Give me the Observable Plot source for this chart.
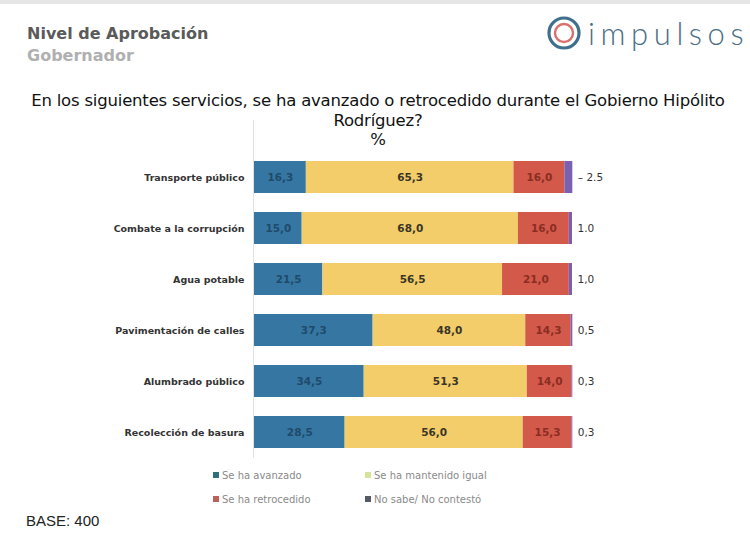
<!DOCTYPE html>
<html>
<head>
<meta charset="utf-8">
<script src="https://cdn.jsdelivr.net/npm/d3@7"></script>
<script src="https://cdn.jsdelivr.net/npm/@observablehq/plot@0.6"></script>
<style>
  html, body { margin: 0; padding: 0; background: #fff; }
  body { width: 750px; height: 552px; position: relative; overflow: hidden; font-family: "DejaVu Sans", sans-serif; }
  .topbar { position: absolute; left: 0; top: 0; width: 750px; height: 4px; background: #e6e6e6; }
  .h1 { position: absolute; left: 27px; top: 24px; font-size: 16px; font-weight: bold; color: #5a5a5a; }
  .h2 { position: absolute; left: 27px; top: 46px; font-size: 16px; font-weight: bold; color: #b0b0b0; }
  .logo { position: absolute; left: 546px; top: 14px; display: flex; align-items: center; }
  .logo span { font-family: "Lato", sans-serif; font-weight: 300; font-size: 31px; color: #4b6e84; letter-spacing: 5.6px; margin-left: 6px; }
  .title { position: absolute; left: 0; top: 91px; width: 756px; text-align: center; font-size: 16.5px; line-height: 19.5px; color: #111; letter-spacing: -0.2px; }
  #chart { position: absolute; left: 0; top: 120px; }
  .legend { position: absolute; left: 213px; top: 470px; font-size: 10px; color: #8a8a8a; }
  .legend .item { position: absolute; white-space: nowrap; }
  .legend .sw { display: inline-block; width: 6px; height: 6px; margin-right: 3px; vertical-align: 1px; }
  .base { position: absolute; left: 26px; top: 512px; font-family: "Liberation Sans", Arial, sans-serif; font-size: 15px; color: #222; }
</style>
</head>
<body>
<div class="topbar"></div>
<div class="h1">Nivel de Aprobación</div>
<div class="h2">Gobernador</div>
<div class="logo">
  <svg width="36" height="36" viewBox="0 0 36 36"><circle cx="18" cy="18" r="15" fill="none" stroke="#3f6f8c" stroke-width="3.2"/><circle cx="18" cy="18" r="9" fill="none" stroke="#d8706b" stroke-width="2.4"/></svg>
  <span>impulsos</span>
</div>
<div class="title">En los siguientes servicios, se ha avanzado o retrocedido durante el Gobierno Hipólito<br>Rodríguez?<br>%</div>
<div id="chart"></div>
<div class="legend" id="legend"></div>
<div class="base">BASE: 400</div>
<script>
const categories = ["Transporte público", "Combate a la corrupción", "Agua potable", "Pavimentación de calles", "Alumbrado público", "Recolección de basura"];
const series = ["Se ha avanzado", "Se ha mantenido igual", "Se ha retrocedido", "No sabe/ No contestó"];
const avanzado   = [16.3, 15.0, 21.5, 37.3, 34.5, 28.5];
const mantenido  = [65.3, 68.0, 56.5, 48.0, 51.3, 56.0];
const retrocedido= [16.0, 16.0, 21.0, 14.3, 14.0, 15.3];
const nosabe     = [2.5, 1.0, 1.0, 0.5, 0.3, 0.3];
const nosabeLabels = ["– 2.5", "1.0", "1,0", "0,5", "0,3", "0,3"];
const colors = ["#3577a2", "#f3cd69", "#d3594a", "#7b5fb0"];
const textColors = ["#1f4a6a", "#3a3526", "#8a2d22"];
const legendColors = ["#2f6f7e", "#d6e39a", "#c0605a", "#555a66"];

const valueLists = [avanzado, mantenido, retrocedido, nosabe];
const data = [];
categories.forEach((c, i) => series.forEach((s, j) => data.push({cat: c, series: s, si: j, value: valueLists[j][i]})));
const totals = categories.map((c, i) => ({cat: c, total: valueLists.reduce((a, l) => a + l[i], 0), label: nosabeLabels[i]}));
const fmt = v => v.toFixed(1).replace(".", ",");

const chart = Plot.plot({
  width: 750,
  height: 338,
  marginLeft: 254,
  marginRight: 178,
  marginTop: 0,
  marginBottom: 0,
  x: {domain: [0, 100], axis: null},
  y: {domain: categories, padding: 0.37, paddingOuter: 0.44, align: 0.8, label: null},
  color: {domain: series, range: colors},
  style: {fontFamily: "DejaVu Sans, sans-serif"},
  marks: [
    Plot.ruleX([0], {stroke: "#e2e2e2", strokeWidth: 1, dx: -1}),
    Plot.barX(data, Plot.stackX({x: "value", y: "cat", fill: "series", order: series})),
    Plot.text(data, Plot.stackX({x: "value", y: "cat", z: "series", order: series, filter: d => d.si < 3,
      text: d => fmt(d.value), fill: d => textColors[d.si], fontSize: 10.5, fontWeight: "bold"})),
    Plot.text(totals, {x: "total", y: "cat", text: "label", textAnchor: "start", dx: 5, fill: "#333", fontSize: 10.5}),
    Plot.axisY({tickSize: 0, tickPadding: 10, fontSize: 9.5, fontWeight: "bold", color: "#333", label: null})
  ]
});
document.getElementById("chart").appendChild(chart);

const leg = document.getElementById("legend");
const pos = [[0, 0], [152, 0], [0, 24], [152, 24]];
series.forEach((s, j) => {
  const d = document.createElement("div");
  d.className = "item";
  d.style.left = pos[j][0] + "px";
  d.style.top = pos[j][1] + "px";
  d.innerHTML = `<span class="sw" style="background:${legendColors[j]}"></span>${s}`;
  leg.appendChild(d);
});
</script>
</body>
</html>
